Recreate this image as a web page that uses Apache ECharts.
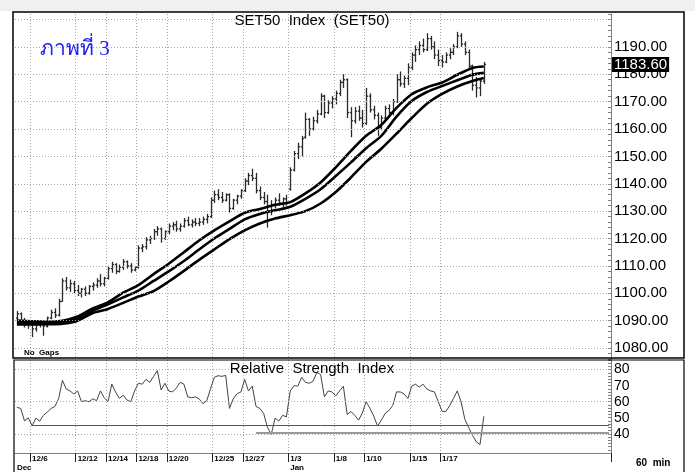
<!DOCTYPE html>
<html>
<head>
<meta charset="utf-8">
<title>SET50 Index</title>
<script src="https://cdn.jsdelivr.net/npm/echarts@6/dist/echarts.min.js"></script>
<style>
  html, body { margin: 0; padding: 0; background: #fff; }
  #chart { width: 695px; height: 472px; }
</style>
</head>
<body>
<div id="chart"></div>
<script>
// trading days shown (60 min bars, 4 per day)
var days = ['12/4', '12/6', '12/7', '12/11', '12/12', '12/13', '12/14', '12/17', '12/18', '12/19',
  '12/20', '12/21', '12/24', '12/25', '12/26', '12/27', '12/28', '1/2', '1/3', '1/4',
  '1/7', '1/8', '1/9', '1/10', '1/11', '1/14', '1/15', '1/16', '1/17', '1/18', '1/21'];
var hours = ['10:00', '11:00', '14:30', '15:30'];
var tickDays = ['12/6', '12/12', '12/14', '12/18', '12/20', '12/25', '12/27', '1/3', '1/8', '1/10', '1/15', '1/17'];
var monthMarks = [['12/4', 'Dec'], ['1/3', 'Jan']];
var emptySlots = 33;

// [open, high, low, close]
var ohlc = [
  [1091, 1093.5, 1090, 1092.5], [1092.5, 1093, 1089, 1089.5], [1089.5, 1091, 1087.5, 1088.5], [1088.5, 1090, 1087, 1089],
  [1089, 1090, 1084, 1087], [1087, 1089.5, 1086, 1088.5], [1088.5, 1090, 1087.5, 1089], [1089, 1089.5, 1084.5, 1088],
  [1088, 1091.5, 1087.5, 1091], [1091, 1094, 1090.5, 1093], [1093, 1094.5, 1091, 1092], [1092, 1098, 1091.5, 1097],
  [1097, 1105.5, 1097, 1104.5], [1104.5, 1106, 1101, 1102], [1102, 1105, 1100.5, 1103.5], [1103.5, 1104.5, 1100, 1101],
  [1101, 1103, 1099, 1100], [1100, 1102, 1098.5, 1101.5], [1101.5, 1102.5, 1099, 1100], [1100, 1103, 1099.5, 1102.5],
  [1102.5, 1104, 1101, 1103], [1103, 1105.5, 1102, 1104.5], [1104.5, 1107, 1102.5, 1103.5], [1103.5, 1106, 1102.5, 1105.5],
  [1105.5, 1110, 1105, 1109], [1109, 1111.5, 1107.5, 1110.5], [1110.5, 1111, 1107, 1108], [1108, 1110.5, 1107.5, 1109.5],
  [1109.5, 1112.5, 1108.5, 1111.5], [1111.5, 1112, 1109, 1110], [1110, 1111, 1107.5, 1108.5], [1108.5, 1110, 1108, 1109.5],
  [1109.5, 1117.5, 1109, 1116.5], [1116.5, 1118, 1115, 1117], [1117, 1120.5, 1116, 1119.5], [1119.5, 1121, 1118, 1120],
  [1120, 1123.5, 1119.5, 1122.5], [1122.5, 1124.5, 1121, 1123.5], [1123.5, 1124, 1118.5, 1120], [1120, 1123, 1119.5, 1122.5],
  [1122.5, 1125.5, 1121.5, 1124.5], [1124.5, 1126, 1123, 1125], [1125, 1126.5, 1122.5, 1123.5], [1123.5, 1125.5, 1122.5, 1124.5],
  [1124.5, 1127.5, 1124, 1126.5], [1126.5, 1128, 1124.5, 1125], [1125, 1127, 1124, 1126], [1126, 1127.5, 1124.5, 1125.5],
  [1125.5, 1127.5, 1124.5, 1126], [1126, 1128, 1125, 1127], [1127, 1129, 1125.5, 1128], [1128, 1135, 1127.5, 1134],
  [1134, 1137.5, 1133, 1136], [1136, 1138, 1134, 1135], [1135, 1137, 1133, 1134], [1134, 1136.5, 1133.5, 1136],
  [1136, 1136.5, 1129.5, 1131], [1131, 1134.5, 1130.5, 1134], [1134, 1136, 1132.5, 1135.5], [1135.5, 1138, 1134.5, 1137.5],
  [1137.5, 1142, 1137, 1141], [1141, 1144, 1139.5, 1143], [1143, 1145.5, 1141, 1142], [1142, 1144, 1136.5, 1137.5],
  [1137.5, 1139, 1134, 1135], [1135, 1137, 1132.5, 1133.5], [1133.5, 1136, 1124, 1130], [1130, 1134, 1128.5, 1132],
  [1132, 1135, 1131, 1134], [1134, 1136.5, 1132, 1133], [1133, 1135, 1131.5, 1134.5], [1134.5, 1136, 1132, 1133],
  [1138, 1146, 1137.5, 1145], [1145, 1152, 1144.5, 1151], [1151, 1155, 1149, 1153.5], [1153.5, 1157.5, 1150, 1156.5],
  [1157, 1166, 1156.5, 1163.5], [1163.5, 1164, 1157.5, 1160], [1160, 1164.5, 1159.5, 1163], [1163, 1167, 1162, 1165.5],
  [1165.5, 1173, 1165, 1172], [1172, 1172.5, 1164, 1166], [1166, 1170.5, 1165.5, 1169.5], [1169.5, 1172, 1167.5, 1171],
  [1171, 1174, 1169, 1173], [1173, 1178, 1172, 1177], [1177, 1180, 1175, 1178], [1178, 1178.5, 1164, 1166],
  [1166, 1168, 1157, 1163], [1163, 1168, 1162, 1166.5], [1166.5, 1168.5, 1163, 1164], [1164, 1167, 1160.5, 1162],
  [1162, 1175, 1161.5, 1172], [1172, 1173, 1166, 1167], [1167, 1168.5, 1163.5, 1165], [1165, 1166, 1157.5, 1160.5],
  [1160.5, 1165, 1159.5, 1164], [1164, 1168.5, 1163, 1167.5], [1167.5, 1169, 1164.5, 1166], [1166, 1171, 1165, 1170],
  [1170, 1180, 1169.5, 1178], [1178, 1181, 1175.5, 1176.5], [1176.5, 1179.5, 1175, 1178.5], [1178.5, 1184, 1176, 1182.5],
  [1182.5, 1188, 1181.5, 1187], [1187, 1190.5, 1184.5, 1189], [1189, 1192, 1187, 1190.5], [1190.5, 1193, 1188, 1189],
  [1189, 1195, 1188.5, 1193], [1193, 1194, 1189, 1190], [1190, 1192, 1185.5, 1187], [1187, 1189, 1183, 1185],
  [1185, 1187, 1182.5, 1184.5], [1184.5, 1188, 1184, 1187], [1187, 1189.5, 1185.5, 1188], [1188, 1191, 1187, 1190],
  [1190, 1195.5, 1189.5, 1194], [1194, 1195, 1190, 1191], [1191, 1192, 1187, 1188], [1188, 1189, 1182, 1183],
  [1183, 1183.5, 1174, 1176], [1176, 1179, 1171.5, 1175], [1175, 1178, 1172, 1177.5], [1177.5, 1184.5, 1176.5, 1183.6]
];

// moving averages read at the first bar of every day, plus the last bar
var maFast = [1090, 1089.8, 1089.6, 1090, 1091.5, 1094.5, 1096.7, 1100.2, 1103, 1107, 1110.8, 1115, 1119.3, 1123,
  1126.3, 1129.4, 1130.8, 1132.3, 1133.3, 1136.5, 1140.5, 1146, 1152, 1157.5, 1161.5, 1167.7, 1172.7, 1175.2,
  1177, 1179.8, 1182.3, 1182.8];
var maMid = [1089.3, 1089.2, 1089.1, 1089.4, 1090.8, 1093.6, 1096, 1098.5, 1101, 1104.5, 1108, 1111.8, 1116, 1120,
  1123.5, 1127, 1129, 1130.3, 1131.6, 1134.5, 1138, 1142.8, 1147.8, 1153, 1157.5, 1164.5, 1170.2, 1173.5,
  1175.7, 1177.8, 1179.8, 1180.5];
var maSlow = [1088.6, 1088.6, 1088.7, 1088.9, 1090, 1092.8, 1094.3, 1096.5, 1098.8, 1100.8, 1104.3, 1108.2, 1112.2, 1116,
  1119.8, 1123, 1125.5, 1127.3, 1128.5, 1130, 1132.8, 1137, 1142.3, 1148, 1152.8, 1158.3, 1164, 1169.2,
  1172.8, 1175.5, 1177.5, 1178.6];

var rsi = [
  56.5, 55.8, 48, 50, 45, 49.7, 47.9, 51.5, 53.5, 55.8, 57, 62,
  73.3, 67.9, 66.7, 64.8, 66.7, 60, 60.6, 60, 61.8, 60.6, 66.7, 62.5,
  60, 71, 66, 62, 64, 61, 60, 66.7, 71.5, 70.9, 73.9, 72.1,
  75.8, 79.4, 67.3, 71.5, 66.7, 66.1, 68.5, 72.1, 70.9, 63, 62.5, 63,
  61.8, 58.8, 60.6, 68, 75.2, 76.2, 75.8, 76.4, 55.8, 61.8, 65, 66,
  73.9, 66.7, 69.7, 57, 55.8, 52.7, 44, 39.6, 49.7, 47.9, 51.5, 50.5,
  66.7, 70, 69.7, 75.2, 72.1, 71.5, 72.7, 78.2, 77, 63, 66.7, 66.1,
  63.6, 66.7, 69.7, 52, 53.9, 51.5, 48.5, 53, 60, 55.8, 51, 44.8,
  48.5, 52.7, 54.5, 57.6, 66.1, 66.1, 64.8, 62, 69.7, 70.9, 69.1, 70.9,
  67.9, 66.7, 66.1, 60, 54, 53.9, 57.5, 62, 66.7, 60, 49, 44,
  39, 35, 33.3, 50.9
];

var priceTicks = [1080, 1090, 1100, 1110, 1120, 1130, 1140, 1150, 1160, 1170, 1180, 1190];
var priceGrid = [1080, 1090, 1100, 1110, 1120, 1130, 1140, 1150, 1160, 1170, 1180, 1190, 1200];
var rsiTicks = [40, 50, 60, 70, 80];
var rsiGrid = [40, 60, 80];
var lastPrice = 1183.60;
// RSI support lines: [start bar, level]
var rsiLines = [[4, 45.5], [63, 40.6]];

// build categories
var cats = [];
days.forEach(function (d) {
  hours.forEach(function (h) { cats.push(d + ' ' + h); });
});
for (var k = 1; k <= emptySlots; k++) cats.push('+' + k);
var lastCat = cats[cats.length - 1];

var tickSet = {};
tickDays.forEach(function (d) { tickSet[days.indexOf(d) * 4] = true; });
var monthAt = {};
monthMarks.forEach(function (m) { monthAt[days.indexOf(m[0]) * 4] = m[1]; });

function maData(arr) {
  return arr.map(function (v, k) {
    var idx = k < days.length ? k * 4 : ohlc.length - 1;
    return [cats[idx], v];
  });
}

function renderBar(params, api) {
  var i = api.value(0);
  var o = api.coord([i, api.value(1)]);
  var h = api.coord([i, api.value(2)]);
  var l = api.coord([i, api.value(3)]);
  var c = api.coord([i, api.value(4)]);
  var x = Math.round(o[0]) + 0.5;
  var st = { stroke: '#2a2a2a', lineWidth: 1.3 };
  return {
    type: 'group',
    children: [
      { type: 'line', shape: { x1: x, y1: h[1], x2: x, y2: l[1] }, style: st },
      { type: 'line', shape: { x1: x - 1.6, y1: o[1], x2: x, y2: o[1] }, style: st },
      { type: 'line', shape: { x1: x, y1: c[1], x2: x + 1.6, y2: c[1] }, style: st }
    ]
  };
}

var font = 'Liberation Sans, Arial, sans-serif';
var dotted = { color: '#a8a8a8', type: [1, 2], width: 1 };

var chart = echarts.init(document.getElementById('chart'));
var option = {
  backgroundColor: '#fff',
  animation: false,
  textStyle: { fontFamily: font },
  grid: [
    { left: 15, right: 84, top: 14, height: 345 },
    { left: 15, right: 84, top: 360, height: 96 }
  ],
  xAxis: [
    {
      type: 'category', gridIndex: 0, data: cats, boundaryGap: true,
      axisLine: { show: false }, axisTick: { show: false }, axisLabel: { show: false },
      splitLine: { show: true, interval: function (i) { return !!tickSet[i]; }, lineStyle: dotted }
    },
    {
      type: 'category', gridIndex: 1, data: cats, boundaryGap: true,
      axisLine: { show: true, lineStyle: { color: '#808080', width: 1 } },
      axisTick: { show: true, length: 9, interval: function (i) { return !!tickSet[i]; }, lineStyle: { color: '#222' } },
      axisLabel: {
        show: true, interval: function (i) { return !!tickSet[i] || monthAt[i] !== undefined; },
        formatter: function (v, i) {
          var top = tickSet[i] ? v.split(' ')[0] : '';
          return monthAt[i] ? top + '\n' + monthAt[i] : top;
        },
        align: 'left', verticalAlign: 'top', margin: 1, lineHeight: 9,
        fontSize: 8, fontWeight: 'bold', color: '#000'
      },
      splitLine: { show: true, interval: function (i) { return !!tickSet[i]; }, lineStyle: dotted }
    }
  ],
  yAxis: [
    {
      type: 'value', gridIndex: 0, position: 'right', min: 1076, max: 1202, interval: 2,
      axisLine: { show: true, lineStyle: { color: '#808080' } },
      axisTick: { show: true, inside: true, length: 3, lineStyle: { color: '#808080' } },
      axisLabel: {
        margin: 3, fontSize: 15, color: '#000',
        formatter: function (v) { return priceTicks.indexOf(v) >= 0 ? v.toFixed(2) : ''; }
      },
      splitLine: { show: false }
    },
    {
      type: 'value', gridIndex: 1, position: 'right', min: 28, max: 86, interval: 2,
      axisLine: { show: true, lineStyle: { color: '#808080' } },
      axisTick: { show: true, inside: true, length: 3, lineStyle: { color: '#808080' } },
      axisLabel: {
        margin: 3, fontSize: 14, color: '#000',
        formatter: function (v) { return rsiTicks.indexOf(v) >= 0 ? String(v) : ''; }
      },
      splitLine: { show: false }
    }
  ],
  series: [
    {
      name: 'SET50', type: 'custom', xAxisIndex: 0, yAxisIndex: 0,
      renderItem: renderBar,
      encode: { x: 0, y: [1, 2, 3, 4] },
      data: ohlc.map(function (b, i) { return [i, b[0], b[1], b[2], b[3]]; }),
      z: 3
    },
    {
      name: 'MA fast', type: 'line', xAxisIndex: 0, yAxisIndex: 0, data: maData(maFast),
      symbol: 'none', smooth: 0.25, lineStyle: { color: '#000', width: 2.6 }, z: 4
    },
    {
      name: 'MA mid', type: 'line', xAxisIndex: 0, yAxisIndex: 0, data: maData(maMid),
      symbol: 'none', smooth: 0.25, lineStyle: { color: '#000', width: 2.6 }, z: 4
    },
    {
      name: 'MA slow', type: 'line', xAxisIndex: 0, yAxisIndex: 0, data: maData(maSlow),
      symbol: 'none', smooth: 0.25, lineStyle: { color: '#000', width: 2.6 }, z: 4,
      markLine: {
        silent: true, symbol: 'none', animation: false,
        data: priceGrid.map(function (v) {
          return { yAxis: v, lineStyle: dotted, label: { show: false } };
        })
      }
    },
    {
      name: 'Last', type: 'line', xAxisIndex: 0, yAxisIndex: 0, data: [],
      z: 6,
      markLine: {
        silent: true, symbol: 'none', animation: false,
        data: [{
          yAxis: lastPrice,
          lineStyle: { width: 0, color: 'rgba(0,0,0,0)' },
          label: {
            show: true, position: 'end', distance: 1,
            formatter: lastPrice.toFixed(2),
            backgroundColor: '#000', color: '#fff', fontSize: 15,
            padding: [0, 2, 0, 2], fontFamily: font
          }
        }]
      }
    },
    {
      name: 'RSI', type: 'line', xAxisIndex: 1, yAxisIndex: 1, data: rsi,
      symbol: 'none', lineStyle: { color: '#444', width: 1 }, z: 4,
      markLine: {
        silent: true, symbol: 'none', animation: false, label: { show: false },
        data: rsiGrid.map(function (v) {
          return { yAxis: v, lineStyle: dotted };
        }).concat([
          [{ coord: [cats[rsiLines[0][0]], rsiLines[0][1]], lineStyle: { color: '#555', width: 1, type: 'solid' } },
           { coord: [lastCat, rsiLines[0][1]] }],
          [{ coord: [cats[rsiLines[1][0]], rsiLines[1][1]], lineStyle: { color: '#999', width: 2, type: 'solid' } },
           { coord: [lastCat, rsiLines[1][1]] }]
        ])
      }
    }
  ],
  graphic: [
    { type: 'rect', shape: { x: 0, y: 0, width: 695, height: 11 }, style: { fill: '#f0f0f0' }, z: -1 },
    { type: 'rect', shape: { x: 13, y: 12, width: 671, height: 346 }, style: { fill: 'none', stroke: '#000', lineWidth: 1.5 }, z: 100 },
    { type: 'rect', shape: { x: 14, y: 360, width: 670, height: 120 }, style: { fill: 'none', stroke: '#000', lineWidth: 1.2 }, z: 100 },
    { type: 'text', x: 312, y: 21, style: { text: 'SET50  Index  (SET50)', fontSize: 15, fill: '#000', align: 'center', verticalAlign: 'middle', fontFamily: font }, z: 100 },
    { type: 'text', x: 312, y: 369, style: { text: 'Relative  Strength  Index', fontSize: 15, fill: '#000', align: 'center', verticalAlign: 'middle', fontFamily: font }, z: 100 },
    { type: 'text', x: 40, y: 49, style: { text: 'ภาพที่ 3', fontSize: 21, fill: '#2222ee', align: 'left', verticalAlign: 'middle', fontFamily: 'serif' }, z: 100 },
    { type: 'text', x: 24, y: 353, style: { text: 'No  Gaps', fontSize: 8, fontWeight: 'bold', fill: '#000', align: 'left', verticalAlign: 'middle', fontFamily: font }, z: 100 },
    { type: 'text', x: 636, y: 463, style: { text: '60  min', fontSize: 10, fontWeight: 'bold', fill: '#000', align: 'left', verticalAlign: 'middle', fontFamily: font }, z: 100 }
  ]
};
chart.setOption(option);
</script>
</body>
</html>
